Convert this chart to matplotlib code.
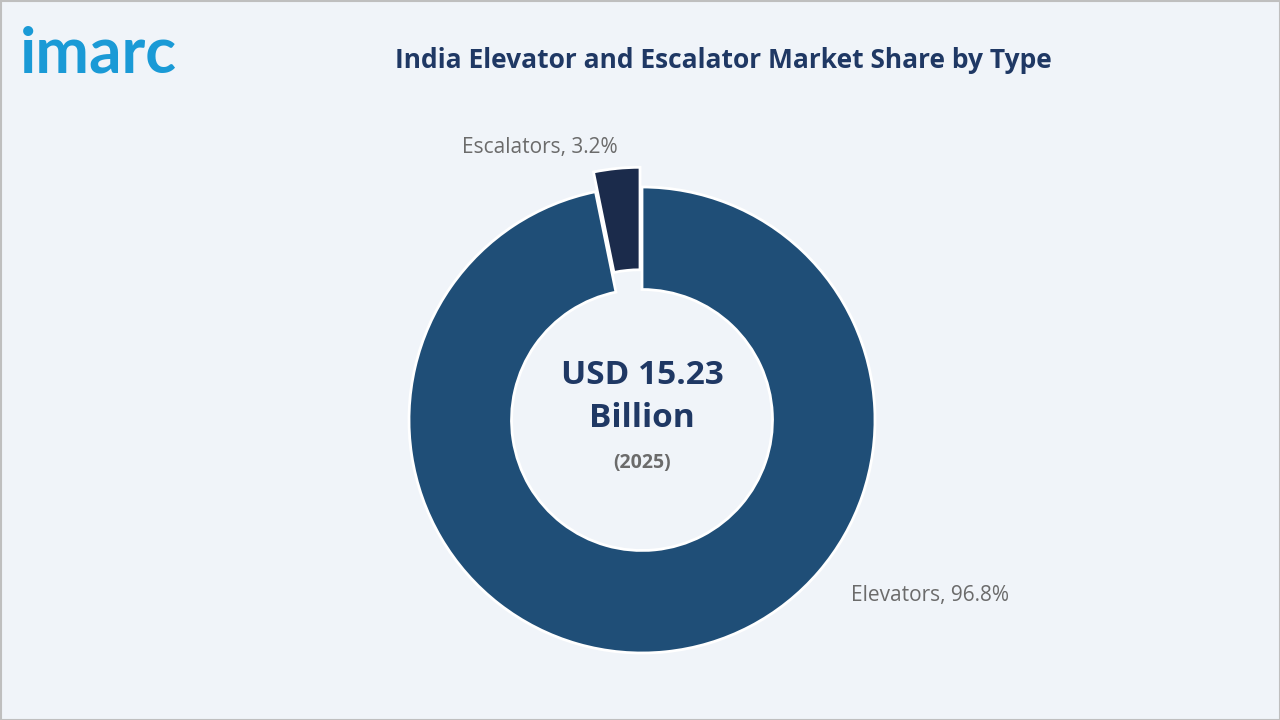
import matplotlib
matplotlib.use("Agg")
import matplotlib.pyplot as plt
from matplotlib.patches import Rectangle

labels = ["Escalators", "Elevators"]
shares = [3.2, 96.8]
colors = ["#1b2b4b", "#1f4e77"]

W, H = 1280, 720
fig = plt.figure(figsize=(12.8, 7.2), dpi=100)
fig.patch.set_facecolor("#f0f4f9")
fig.add_artist(Rectangle((0.5/W, 0.5/H), 1-1/W, 1-1/H, transform=fig.transFigure,
                         fill=False, edgecolor="#bfbfbf", lw=1.5))

cx, cy, R = 642, 420, 233
ax = fig.add_axes([(cx-R)/W, (H-cy-R)/H, 2*R/W, 2*R/H])
ax.set_facecolor("none")
wedges, _ = ax.pie(shares, colors=colors, startangle=90, counterclock=True,
                   explode=[0.085, 0], radius=1,
                   wedgeprops=dict(width=0.44, edgecolor="white", linewidth=2))
ax.set_xlim(-1, 1); ax.set_ylim(-1, 1)
ax.set_aspect("equal")
ax.axis("off")

fig.text(540/W, 1-147/H, f"{labels[0]}, {shares[0]}%", ha="center", va="center",
         fontsize=15, color="#6b6b6b", family="Open Sans")
fig.text(930/W, 1-596/H, f"{labels[1]}, {shares[1]}%", ha="center", va="center",
         fontsize=15, color="#6b6b6b", family="Open Sans")

fig.text(cx/W, 1-376/H, "USD 15.23", ha="center", va="center", fontsize=24,
         fontweight="bold", color="#1f3864", family="Open Sans")
fig.text(cx/W, 1-418/H, "Billion", ha="center", va="center", fontsize=24,
         fontweight="bold", color="#1f3864", family="Open Sans")
fig.text(cx/W, 1-463/H, "(2025)", ha="center", va="center", fontsize=14,
         fontweight="bold", color="#6b6b6b", family="Open Sans")

fig.text(723/W, 1-60/H, "India Elevator and Escalator Market Share by Type",
         ha="center", va="center", fontsize=19, fontweight="bold", color="#1f3864",
         family="Open Sans")
fig.text(20/W, 1-54/H, "imarc", ha="left", va="center", fontsize=46,
         color="#1a9ad6", fontweight="bold", family="Lato")

fig.savefig("out.png", dpi=100, facecolor=fig.get_facecolor())
